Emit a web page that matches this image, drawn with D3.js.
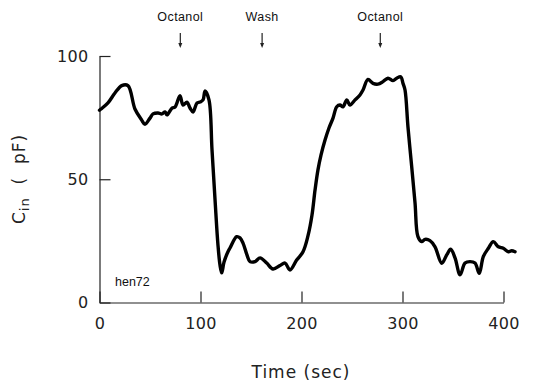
<!DOCTYPE html>
<html>
<head>
<meta charset="utf-8">
<script src="https://cdn.jsdelivr.net/npm/d3@7"></script>
<style>
	body { margin: 0; background: #fff; }
	svg { display: block; }
	.axis path, .axis line { stroke: #222; stroke-width: 1.2; }
	.axis text { font-family: "DejaVu Sans", sans-serif; font-size: 16px; fill: #222; letter-spacing: 0.3px; }
	.note { font-family: "Liberation Sans", Arial, sans-serif; font-size: 12.5px; fill: #111; }
	.title { font-family: "DejaVu Sans", sans-serif; font-size: 17px; fill: #222; letter-spacing: 1px; white-space: pre; }
</style>
</head>
<body>
<svg width="533" height="383"></svg>
<script>
// trace: time (sec) vs Cin (pF)
var times = [0, 1.5, 8.4, 15.3, 22, 28.2, 35.1, 41.8, 45, 50, 53, 57.9, 61.9, 64.9, 66.8, 71.8, 74.8, 79.7,
	82.7, 86.6, 89.6, 92.6, 96.5, 99.5, 102.5, 104.5, 108.4, 111.4, 114.4, 117.3, 119.3, 121, 123.3, 127.2,
	129.2, 135.8, 139.1, 142.1, 146, 149, 154, 159, 165.5, 171.8, 178.7, 183.7, 188.6, 195.2, 201.5, 206.4,
	210.4, 213.4, 216.3, 219.3, 223.3, 227.2, 231.2, 234.9, 238.1, 241.1, 244.8, 248, 253, 257.9, 260.9,
	265.8, 270.8, 275.7, 280.7, 285.6, 290.6, 294.3, 298.2, 300.5, 302.5, 305.4, 309.1, 312.4, 315.3, 319,
	322.3, 327.2, 332.2, 338.8, 343.8, 347.7, 352, 357, 361.9, 366.8, 371.8, 376, 380, 385, 389.9, 394.9,
	399.8, 404.8, 408.1, 411.4];
var cin = [78, 78.5, 81, 85, 88, 88, 78.5, 74, 72.3, 74.8, 76.5, 76.9, 76.5, 77.3, 76.1, 78.9, 79.3, 83.9,
	80.1, 81.3, 78.9, 77.3, 80.9, 81.3, 82.2, 85.8, 82.2, 61.9, 41.6, 23.3, 15.2, 12, 16.4, 20.6,
	22.1, 26.7, 26.2, 24.1, 19.3, 16.6, 16.6, 18.1, 16, 13.6, 15, 16, 13.2, 17.2, 20.6, 27,
	35.5, 45.6, 53.8, 59.8, 65.9, 70.8, 74.8, 79.4, 80.1, 79.4, 82.2, 80.1, 82.2, 84.2, 86.2,
	90.5, 88.9, 88.6, 89.6, 91, 90, 91, 91.6, 88.9, 86.2, 71.3, 55.1, 40.4, 26.7, 24.7,
	25.6, 25.1, 22.6, 15.9, 19.3, 21.6, 18.1, 11.2, 16, 16.6, 16, 11.8, 18.6, 22, 24.7, 22.6,
	22, 20.6, 21, 20.6];

var xTicks = [0, 100, 200, 300, 400];
var yTicks = [0, 50, 100];

var eventNames = ["Octanol", "Wash", "Octanol"];
var eventTimes = [80, 161, 278];

var svg = d3.select("svg");

var x = d3.scaleLinear().domain([0, 400]).range([99.5, 503.5]);
var y = d3.scaleLinear().domain([0, 100]).range([302.5, 56]);

// axes, ticks pointing inward
svg.append("g")
	.attr("class", "axis")
	.attr("transform", "translate(0," + y(0) + ")")
	.call(d3.axisBottom(x).tickValues(xTicks).tickSizeInner(-11).tickSizeOuter(0).tickPadding(15))
	.call(function(g) { g.selectAll(".tick text").attr("dy", "0.71em"); });

svg.append("g")
	.attr("class", "axis")
	.attr("transform", "translate(" + x(0) + ",0)")
	.call(d3.axisLeft(y).tickValues(yTicks).tickSizeInner(-11).tickSizeOuter(0).tickPadding(11));

// trace
var line = d3.line()
	.x(function(d, i) { return x(times[i]); })
	.y(function(d) { return y(d); })
	.curve(d3.curveCatmullRom.alpha(0.5));

svg.append("path")
	.datum(cin)
	.attr("d", line)
	.attr("fill", "none")
	.attr("stroke", "#000")
	.attr("stroke-width", 3.4)
	.attr("stroke-linejoin", "round")
	.attr("stroke-linecap", "round");

// event markers
var ev = svg.selectAll(".event")
	.data(eventNames)
	.enter().append("g")
	.attr("class", "event")
	.attr("transform", function(d, i) { return "translate(" + x(eventTimes[i]) + ",0)"; });

ev.append("text")
	.attr("class", "note")
	.attr("text-anchor", "middle")
	.attr("y", 21)
	.style("letter-spacing", "0.4px")
	.text(function(d) { return d; });

ev.append("line")
	.attr("y1", 33).attr("y2", 46)
	.attr("stroke", "#222").attr("stroke-width", 1.2);

ev.append("path")
	.attr("d", "M-2,43L2,43L0,48Z")
	.attr("fill", "#222");

svg.append("text")
	.attr("class", "note")
	.attr("x", 115).attr("y", 286)
	.text("hen72");

// axis titles
svg.append("text")
	.attr("class", "title")
	.attr("x", 301).attr("y", 378)
	.attr("text-anchor", "middle")
	.text("Time (sec)");

var yl = svg.append("text")
	.attr("class", "title")
	.attr("transform", "translate(25,179) rotate(-90)")
	.attr("text-anchor", "middle");
yl.append("tspan").text("C");
yl.append("tspan").attr("dy", 4).style("font-size", "13px").text("in");
yl.append("tspan").attr("dy", -4).text("  (  pF)");
</script>
</body>
</html>
